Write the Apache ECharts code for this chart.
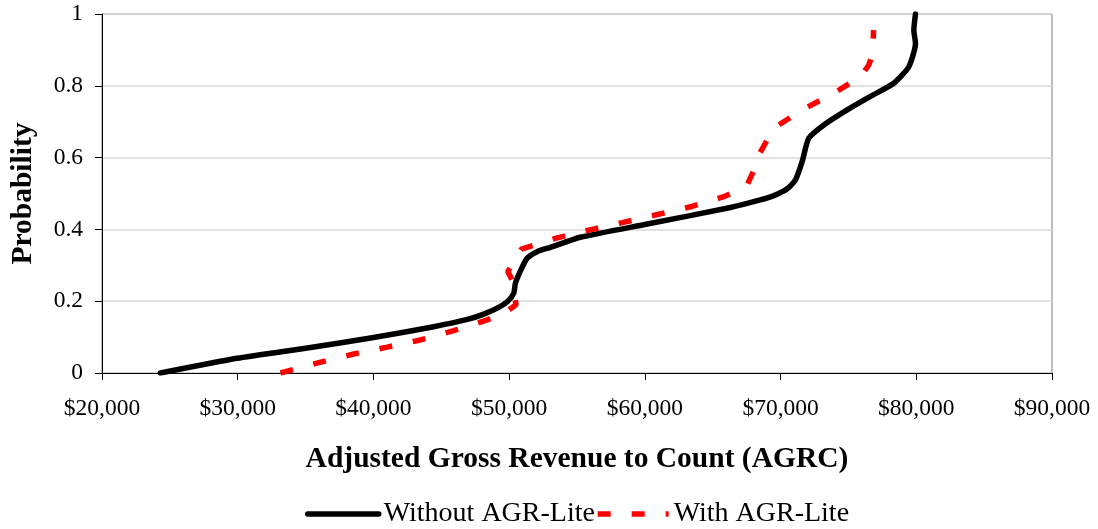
<!DOCTYPE html>
<html>
<head>
<meta charset="utf-8">
<script src="https://cdn.jsdelivr.net/npm/echarts@6/dist/echarts.min.js"></script>
<style>
html,body{margin:0;padding:0;background:#fff;}
#chart{width:1098px;height:529px;}
</style>
</head>
<body>
<div id="chart"></div>
<script>
// Series names
const seriesNames = ['Without AGR-Lite', 'With AGR-Lite'];

// Without AGR-Lite: [AGRC ($), cumulative probability]
const withoutAGRLite = [
  [24300, 0.0], [29950, 0.041], [35000, 0.069], [40020, 0.099], [44440, 0.129],
  [47000, 0.150], [48130, 0.164], [49230, 0.183], [49900, 0.200], [50340, 0.222],
  [50460, 0.250], [50900, 0.290], [51330, 0.320], [52060, 0.338], [53040, 0.350],
  [55250, 0.378], [60170, 0.415], [66310, 0.461], [68500, 0.482], [69500, 0.494],
  [70490, 0.513], [71100, 0.538], [71600, 0.590], [72080, 0.654], [73190, 0.691],
  [74910, 0.733], [76700, 0.772], [78340, 0.807], [79450, 0.853], [79940, 0.918],
  [79820, 0.955], [79940, 1.0]
];

// With AGR-Lite: [AGRC ($), cumulative probability]
const withAGRLite = [
  [33150, 0.0], [35970, 0.029], [38550, 0.053], [41010, 0.072], [43460, 0.092],
  [45920, 0.118], [48380, 0.148], [49600, 0.165], [50500, 0.190], [50300, 0.250],
  [50100, 0.268], [49900, 0.282], [50900, 0.345], [53410, 0.375], [55870, 0.398],
  [58330, 0.419], [60780, 0.440], [63360, 0.463], [65810, 0.491], [67170, 0.514],
  [67540, 0.524], [68270, 0.584], [68390, 0.607], [69500, 0.682], [71590, 0.733],
  [73920, 0.779], [75890, 0.825], [76500, 0.858], [76800, 0.890], [76850, 0.955]
];

// Axis ranges / ticks
const xMin = 20000, xMax = 90000, xStep = 10000;
const yMin = 0, yMax = 1, yStep = 0.2;
const xTitle = 'Adjusted Gross Revenue to Count (AGRC)';
const yTitle = 'Probability';

const FONT = "'Liberation Serif', 'Times New Roman', serif";

const chart = echarts.init(document.getElementById('chart'), null, {renderer: 'canvas'});
chart.setOption({
  animation: false,
  backgroundColor: '#ffffff',
  textStyle: {fontFamily: FONT, color: '#000'},
  grid: {
    left: 102, right: 46, top: 14, bottom: 156,
    containLabel: false, outerBoundsMode: 'none',
    show: true, borderColor: '#808080', borderWidth: 1, backgroundColor: 'transparent'
  },
  legend: {
    data: [
      {name: seriesNames[0], lineStyle: {width: 5.5, color: '#000', cap: 'round'}},
      {name: seriesNames[1], lineStyle: {width: 5.5, color: '#ff0000', type: [13, 21]}}
    ],
    left: 300, top: 495,
    itemWidth: 71, itemHeight: 28, itemGap: 0,
    itemStyle: {opacity: 0},
    textStyle: {fontFamily: FONT, fontSize: 28, color: '#000'}
  },
  xAxis: {
    type: 'value', min: xMin, max: xMax, interval: xStep,
    name: xTitle, nameLocation: 'middle', nameGap: 71,
    nameTextStyle: {fontFamily: FONT, fontSize: 29.5, fontWeight: 'bold', color: '#000'},
    axisLine: {show: true, lineStyle: {color: '#000', width: 1}},
    axisTick: {show: true, inside: false, length: 7, lineStyle: {color: '#000'}},
    axisLabel: {
      margin: 24, fontFamily: FONT, fontSize: 23.5, color: '#000',
      formatter: v => '$' + v.toLocaleString('en-US')
    },
    splitLine: {show: false}
  },
  yAxis: {
    type: 'value', min: yMin, max: yMax, interval: yStep,
    name: yTitle, nameLocation: 'middle', nameGap: 64,
    nameTextStyle: {fontFamily: FONT, fontSize: 29.5, fontWeight: 'bold', color: '#000'},
    axisLine: {show: true, lineStyle: {color: '#000', width: 1}},
    axisTick: {show: true, inside: false, length: 7, lineStyle: {color: '#000'}},
    axisLabel: {margin: 19, fontFamily: FONT, fontSize: 23.5, color: '#000'},
    splitLine: {show: true, lineStyle: {color: '#d9d9d9', width: 1.5}}
  },
  series: [
    {
      name: seriesNames[0], type: 'line', data: withoutAGRLite,
      symbol: 'none', smooth: 0.2,
      lineStyle: {color: '#000', width: 5.5, cap: 'round', join: 'round'},
      itemStyle: {color: '#000'}
    },
    {
      name: seriesNames[1], type: 'line', data: withAGRLite,
      symbol: 'none', smooth: false,
      lineStyle: {color: '#ff0000', width: 5.5, type: [13, 21], cap: 'butt'},
      itemStyle: {color: '#ff0000'}
    }
  ]
});
</script>
</body>
</html>
